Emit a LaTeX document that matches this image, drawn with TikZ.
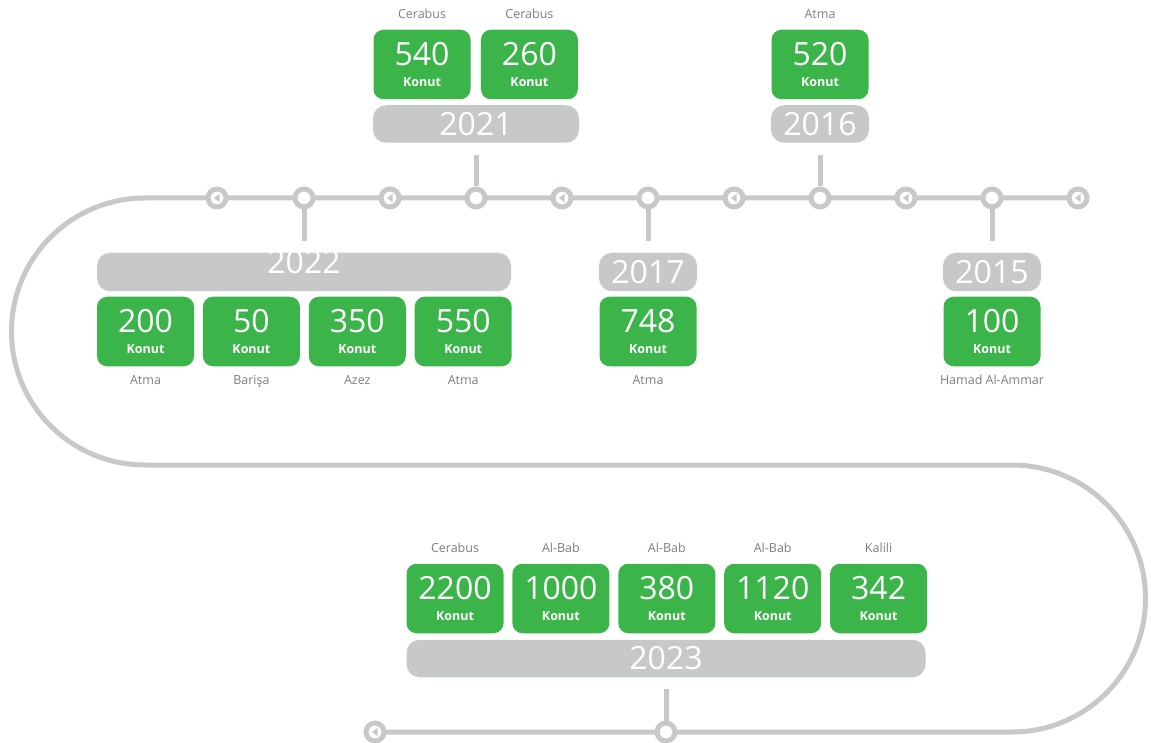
\documentclass[tikz,border=0pt]{standalone}
\usepackage{fontspec}
\setmainfont{Open Sans}
\usepackage{tikz}
\usetikzlibrary{positioning}
\definecolor{yesil}{RGB}{59,181,74}
\definecolor{acikgri}{RGB}{199,200,202}
\definecolor{yazigri}{RGB}{125,126,129}

\newcommand{\adet}[1]{{\fontsize{32}{32}\selectfont #1}\\[7.5pt]{\bfseries Konut}}

\begin{document}
\begin{tikzpicture}[x=1pt, y=-1pt,
konut/.style={
fill=yesil,
rounded corners=10pt,
text=white,
align=center,
minimum width=97pt,
minimum height=69.5pt,
inner sep=0pt,
font=\fontsize{12.5}{13}\selectfont
},
yil/.style={
fill=acikgri,
rounded corners=13pt,
text=white,
minimum height=37.5pt,
inner sep=0pt,
font=\fontsize{32}{32}\selectfont
},
firma/.style={
text=yazigri,
inner sep=0pt,
text height=9.5pt,
text depth=2.5pt,
font=\fontsize{12.5}{13}\selectfont
},
label distance=8pt,
hat/.style={draw=acikgri, line width=5pt},
durak/.style={circle, draw=acikgri, fill=white, line width=5pt, minimum size=18pt, inner sep=0pt},
gecis/.style={durak, path picture={
\fill[acikgri] ([xshift=-3pt]path picture bounding box.center) -- ++(5.5pt,4pt) -- ++(0pt,-8pt) -- cycle;}},
dal/.style={hat, shorten >=12pt}]

\useasboundingbox (0,0) rectangle (1151,743);

% track
\draw[hat] (1078,198) -- (145,198)
arc[start angle=-90, end angle=-270, radius=133.5] -- (1012,465)
arc[start angle=-90, end angle=90, radius=133.5] -- (375,732);

% stops
\foreach \x [count=\i] in {217,390,562,734,906,1078}
\node (P\i) [gecis] at (\x,198) {};
\node (P7) [gecis] at (375,732) {};

\node (D2022) [durak] at (304,198) {};
\node (D2021) [durak] at (476,198) {};
\node (D2017) [durak] at (648,198) {};
\node (D2016) [durak] at (820,198) {};
\node (D2015) [durak] at (992,198) {};
\node (D2023) [durak] at (666,732) {};

% years
\node (Y2021) [yil, minimum width=206pt] at (476,124) {2021};
\node (Y2016) [yil, minimum width=98pt] at (820,124) {2016};
\node (Y2022) [yil, minimum width=414pt, minimum height=38.5pt] at (304,272) {\raisebox{10pt}[23pt][0pt]{2022}};
\node (Y2017) [yil, minimum width=98pt, minimum height=38.5pt] at (648,272) {2017};
\node (Y2015) [yil, minimum width=98pt, minimum height=38.5pt] at (992,272) {2015};
\node (Y2023) [yil, minimum width=519pt] at (666,658.5) {2023};

% projects
\node (K540) [konut, label={[firma]above:Cerabus}] at (422,64.5) {\adet{540}};
\node (K260) [konut, right = 10pt of K540, label={[firma]above:Cerabus}] {\adet{260}};
\node (K520) [konut, label={[firma]above:Atma}] at (820,64.5) {\adet{520}};

\node (K200) [konut, label={[firma]below:Atma}] at (145.5,331.5) {\adet{200}};
\node (K50) [konut, right = 8.5pt of K200, label={[firma]below:Barişa}] {\adet{50}};
\node (K350) [konut, right = 8.5pt of K50, label={[firma]below:Azez}] {\adet{350}};
\node (K550) [konut, right = 8.5pt of K350, label={[firma]below:Atma}] {\adet{550}};
\node (K748) [konut, label={[firma]below:Atma}] at (648,331.5) {\adet{748}};
\node (K100) [konut, label={[firma]below:Hamad Al-Ammar}] at (992,331.5) {\adet{100}};

\node (K2200) [konut, label={[firma]above:Cerabus}] at (455,598.5) {\adet{2200}};
\node (K1000) [konut, right = 8.5pt of K2200, label={[firma]above:Al-Bab}] {\adet{1000}};
\node (K380) [konut, right = 8.5pt of K1000, label={[firma]above:Al-Bab}] {\adet{380}};
\node (K1120) [konut, right = 8.5pt of K380, label={[firma]above:Al-Bab}] {\adet{1120}};
\node (K342) [konut, right = 8.5pt of K1120, label={[firma]above:Kalili}] {\adet{342}};

% connections
\draw[dal] (D2021) -- (Y2021);
\draw[dal] (D2016) -- (Y2016);
\draw[dal] (D2022) -- (Y2022);
\draw[dal] (D2017) -- (Y2017);
\draw[dal] (D2015) -- (Y2015);
\draw[dal] (D2023) -- (Y2023);

\end{tikzpicture}
\end{document}
